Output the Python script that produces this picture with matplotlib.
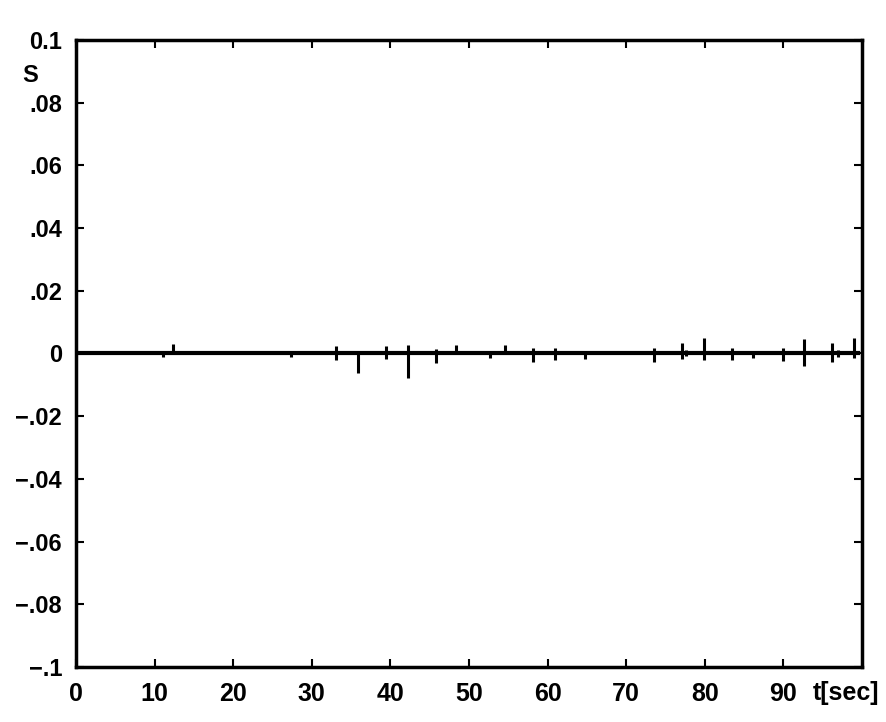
import matplotlib
matplotlib.use("Agg")
import matplotlib.pyplot as plt

# Baseline of S(t) and the short spikes on it
base_t = [0, 99.5]
base_s = [0, 0]
spike_t = [11.1, 12.3, 27.3, 33.1, 35.9, 39.4, 42.3, 45.8, 48.4, 52.7, 54.6,
           58.2, 61.0, 64.8, 73.5, 77.1, 77.6, 79.9, 83.4, 86.1, 89.9,
           92.6, 96.2, 97.0, 99.0]
spike_up = [0.0, 0.0030, 0.0, 0.0023, 0.0, 0.0023, 0.0028, 0.0015, 0.0026, 0.0, 0.0026,
            0.0016, 0.0016, 0.0, 0.0018, 0.0035, 0.0012, 0.0048, 0.0018, 0.0, 0.0018,
            0.0047, 0.0035, 0.0010, 0.0048]
spike_down = [-0.0010, 0.0, -0.0012, -0.0020, -0.0063, -0.0019, -0.0079, -0.0029, 0.0, -0.0015, 0.0,
              -0.0026, -0.0022, -0.0019, -0.0026, -0.0017, -0.0008, -0.0020, -0.0020, -0.0015, -0.0023,
              -0.0040, -0.0026, -0.0012, -0.0014]

yticks = [-0.1, -0.08, -0.06, -0.04, -0.02, 0, 0.02, 0.04, 0.06, 0.08, 0.1]
ytick_labels = ["\u2212.1", "\u2212.08", "\u2212.06", "\u2212.04", "\u2212.02", "0",
                ".02", ".04", ".06", ".08", "0.1"]
xticks = [0, 10, 20, 30, 40, 50, 60, 70, 80, 90]

plt.rcParams['font.family'] = ['Liberation Sans', 'DejaVu Sans']
plt.rcParams['font.weight'] = 'bold'

fig = plt.figure(figsize=(8.86, 7.22), dpi=100)
ax = fig.add_axes([76/886, 1 - 667/722, 786/886, 627/722])
ax.plot(base_t, base_s, color='black', lw=3.0)
ax.vlines(spike_t, spike_down, spike_up, color='black', lw=2.2)
ax.set_xlim(0, 100)
ax.set_ylim(-0.1, 0.1)
ax.set_xticks(xticks)
ax.set_xticklabels([str(v) for v in xticks])
ax.set_yticks(yticks)
ax.set_yticklabels(ytick_labels)
ax.tick_params(direction='in', length=6, width=1.5, top=True, right=True)
ax.tick_params(axis='x', pad=11, labelsize=18)
ax.tick_params(axis='y', pad=10, labelsize=17)
for sp in ax.spines.values():
    sp.set_linewidth(2.5)

ax.text(-0.069, 0.944, "S", transform=ax.transAxes, fontsize=17, ha='left', va='center')
fig.text(813/886, 1 - 693/722, "t[sec]", fontsize=18, ha='left', va='center')

fig.savefig("out.png", dpi=100)
